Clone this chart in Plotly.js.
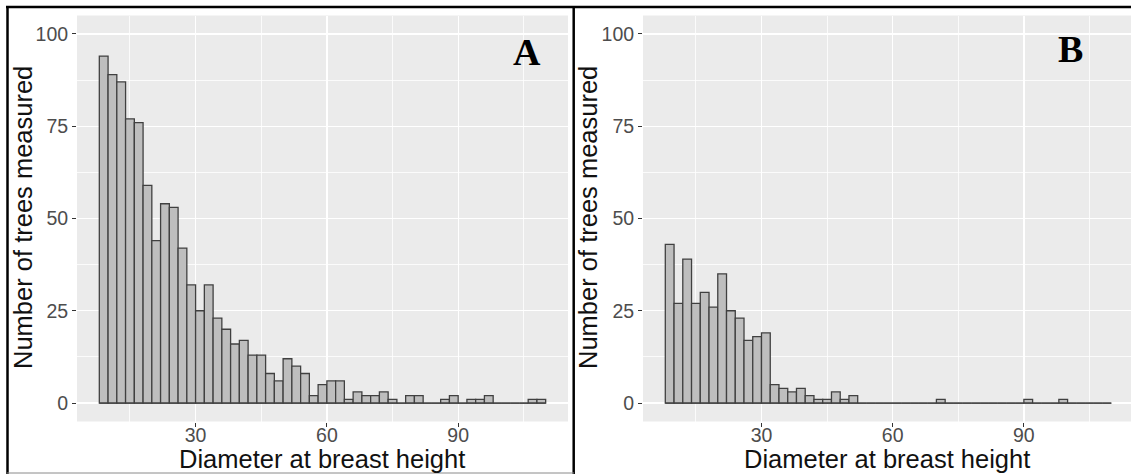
<!DOCTYPE html>
<html>
<head>
<meta charset="utf-8">
<script src="https://cdn.plot.ly/plotly-3.0.1.min.js"></script>
<style>
html, body { margin: 0; padding: 0; background: #ffffff; }
#chart { width: 1131px; height: 474px; }
</style>
</head>
<body>
<div id="chart"></div>
<script>
// ---- data ----
const binStart = 8;      // left edge of first bin (cm)
const binWidth = 2;      // bin width (cm)
const countsA = [94, 89, 87, 77, 76, 59, 44, 54, 53, 42,
                 32, 25, 32, 23, 20, 16, 17, 13, 13, 8,
                 6, 12, 10, 8, 2, 5, 6, 6, 1, 3,
                 2, 2, 3, 1, 0, 2, 2, 0, 0, 1,
                 2, 0, 1, 1, 2, 0, 0, 0, 0, 1,
                 1];
const countsB = [43, 27, 39, 27, 30, 26, 35, 25, 23, 17,
                 18, 19, 5, 4, 3, 4, 2, 1, 1, 3,
                 1, 2, 0, 0, 0, 0, 0, 0, 0, 0,
                 0, 1, 0, 0, 0, 0, 0, 0, 0, 0,
                 0, 1, 0, 0, 0, 1, 0, 0, 0, 0,
                 0];
const xTickVals = [30, 60, 90];
const yTickVals = [0, 25, 50, 75, 100];
const panelLabels = ['A', 'B'];
const xTitleText = 'Diameter at breast height';
const yTitleText = 'Number of trees measured';

// ---- helpers ----
const W = 1131, H = 474;
const px = v => v / W;
const py = v => 1 - v / H;

function barTrace(counts, xa, ya) {
  const xs = counts.map((c, i) => binStart + binWidth * (i + 0.5));
  return {
    type: 'bar', x: xs, y: counts, width: counts.map(() => binWidth),
    xaxis: xa, yaxis: ya,
    marker: { color: '#BEBEBE', line: { color: '#404040', width: 1.3 } },
    hoverinfo: 'x+y', showlegend: false
  };
}
function baseTrace(counts, xa, ya) {
  return {
    type: 'scatter', mode: 'lines',
    x: [binStart, binStart + binWidth * counts.length], y: [0, 0],
    xaxis: xa, yaxis: ya,
    line: { color: '#404040', width: 1.3 },
    hoverinfo: 'skip', showlegend: false
  };
}

const tickFont = { family: 'Liberation Sans, Arial, sans-serif', size: 19.5, color: '#4D4D4D' };
function xAxis(domain, range, anchor) {
  return {
    domain: domain, range: range, anchor: anchor,
    tickmode: 'array', tickvals: xTickVals,
    ticks: 'outside', ticklen: 4, tickwidth: 1, tickcolor: '#333333',
    tickfont: tickFont, ticklabelstandoff: -8,
    showgrid: true, gridcolor: '#FFFFFF', gridwidth: 1.3,
    minor: { tickmode: 'linear', tick0: 0, dtick: 15, showgrid: true, gridcolor: '#FFFFFF', gridwidth: 0.8, ticks: '' },
    zeroline: false, showline: false, fixedrange: true
  };
}
function yAxis(anchor) {
  return {
    domain: [1 - 421.5 / H, 1 - 15.5 / H], range: [-5, 105], anchor: anchor,
    tickmode: 'array', tickvals: yTickVals,
    ticks: 'outside', ticklen: 4, tickwidth: 1, tickcolor: '#333333',
    tickfont: tickFont,
    showgrid: true, gridcolor: '#FFFFFF', gridwidth: 1.3,
    minor: { tickmode: 'linear', tick0: 0, dtick: 12.5, showgrid: true, gridcolor: '#FFFFFF', gridwidth: 0.8, ticks: '' },
    zeroline: false, showline: false, fixedrange: true
  };
}

const titleFont = { family: 'Liberation Sans, Arial, sans-serif', size: 25.5, color: '#111111' };
const labelFont = { family: 'Liberation Serif, Times New Roman, serif', size: 38, color: '#000000', weight: 'bold' };

const data = [
  barTrace(countsA, 'x', 'y'), baseTrace(countsA, 'x', 'y'),
  barTrace(countsB, 'x2', 'y2'), baseTrace(countsB, 'x2', 'y2')
];

const layout = {
  width: W, height: H,
  margin: { l: 0, r: 0, t: 0, b: 0 },
  paper_bgcolor: '#FFFFFF', plot_bgcolor: '#EBEBEB',
  bargap: 0, showlegend: false,
  xaxis: xAxis([px(77), px(568)], [2.9, 115.1], 'y'),
  yaxis: yAxis('x'),
  xaxis2: xAxis([px(643), 1], [2.9, 114.5], 'y2'),
  yaxis2: yAxis('x2'),
  annotations: [
    { text: xTitleText, xref: 'paper', yref: 'paper', x: px(322), y: py(459), xanchor: 'center', yanchor: 'middle', showarrow: false, font: titleFont },
    { text: yTitleText, xref: 'paper', yref: 'paper', x: px(23), y: py(218), xanchor: 'center', yanchor: 'middle', textangle: -90, showarrow: false, font: titleFont },
    { text: xTitleText, xref: 'paper', yref: 'paper', x: px(887), y: py(459), xanchor: 'center', yanchor: 'middle', showarrow: false, font: titleFont },
    { text: yTitleText, xref: 'paper', yref: 'paper', x: px(588), y: py(218), xanchor: 'center', yanchor: 'middle', textangle: -90, showarrow: false, font: titleFont },
    { text: '<b>' + panelLabels[0] + '</b>', xref: 'paper', yref: 'paper', x: px(527), y: py(52), xanchor: 'center', yanchor: 'middle', showarrow: false, font: labelFont },
    { text: '<b>' + panelLabels[1] + '</b>', xref: 'paper', yref: 'paper', x: px(1070), y: py(49), xanchor: 'center', yanchor: 'middle', showarrow: false, font: labelFont }
  ],
  shapes: [
    { type: 'line', xref: 'paper', yref: 'paper', x0: px(6), x1: 1, y0: py(7), y1: py(7), line: { color: '#000000', width: 2.5 }, layer: 'above' },
    { type: 'line', xref: 'paper', yref: 'paper', x0: px(7.5), x1: px(7.5), y0: py(6), y1: 0, line: { color: '#000000', width: 2.5 }, layer: 'above' },
    { type: 'line', xref: 'paper', yref: 'paper', x0: px(573.7), x1: px(573.7), y0: py(6), y1: 0, line: { color: '#000000', width: 2.5 }, layer: 'above' },
    { type: 'line', xref: 'paper', yref: 'paper', x0: px(7), x1: px(574), y0: py(473), y1: py(473), line: { color: '#8A8A8A', width: 1 }, layer: 'above' }
  ]
};

Plotly.newPlot('chart', data, layout, { displayModeBar: false, staticPlot: true });
</script>
</body>
</html>
